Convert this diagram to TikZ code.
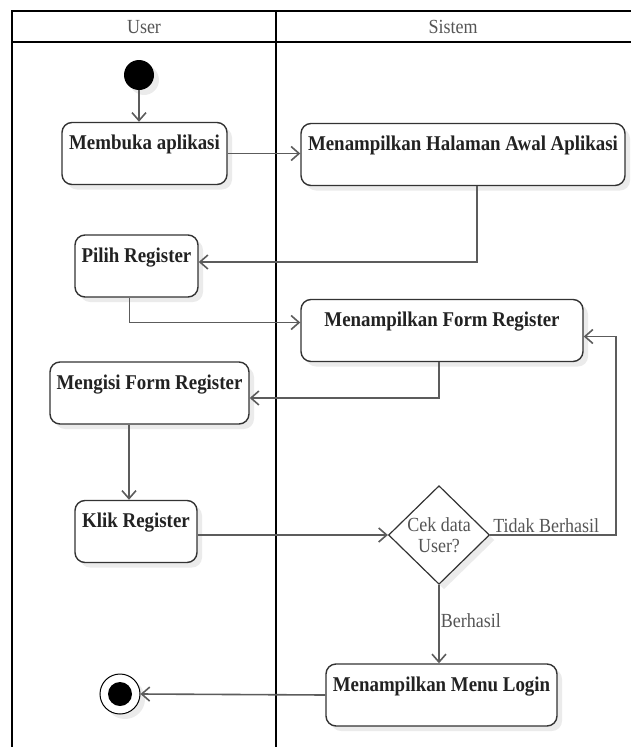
\documentclass[tikz,border=0pt]{standalone}
\usepackage{fontspec}
\setmainfont[FakeStretch=0.9]{Liberation Serif}
\usetikzlibrary{arrows.meta, shapes.geometric, shadows}
\definecolor{laneblk}{HTML}{000000}
\definecolor{actdraw}{HTML}{333333}
\definecolor{acttext}{HTML}{222222}
\definecolor{flowgray}{HTML}{5C5C5C}
\definecolor{labgray}{HTML}{555555}
\definecolor{shadegray}{HTML}{EBEBEB}
\tikzset{
  lane/.style     = {draw=laneblk, line width=2.4pt},
  lanehead/.style = {font=\fontsize{20}{22}\selectfont, text=labgray, inner sep=0pt},
  softshadow/.style = {drop shadow={shadow xshift=5pt, shadow yshift=-5pt,
                       fill=shadegray, opacity=1}},
  act/.style      = {rectangle, rounded corners=10pt, draw=actdraw, line width=1.4pt,
                     fill=white, softshadow, text=acttext,
                     font=\fontsize{21}{23}\selectfont\bfseries,
                     minimum height=62pt, text height=27pt, text depth=35pt,
                     inner ysep=0pt, inner xsep=4pt},
  decide/.style   = {diamond, draw=actdraw, line width=1.2pt, fill=white, softshadow,
                     text=labgray, font=\fontsize{20}{21}\selectfont, align=center,
                     inner sep=0pt, minimum width=101pt, minimum height=96pt},
  startdot/.style = {circle, fill=black, minimum size=30pt, inner sep=0pt, softshadow},
  enddot/.style   = {circle, draw=black, line width=1pt, fill=white, minimum size=40pt,
                     inner sep=0pt, softshadow},
  flow/.style     = {draw=flowgray, line width=1.6pt,
                     -{Straight Barb[length=8pt, width=14pt]}},
  flowlab/.style  = {font=\fontsize{20}{22}\selectfont, text=labgray, inner sep=1pt},
}

\begin{document}
\begin{tikzpicture}[x=1pt, y=-1pt]
  \useasboundingbox (0,0) rectangle (631,747);
  % swimlanes
  \draw[lane] (631,11) -- (12,11) -- (12,747);
  \draw[lane] (12,42) -- (631,42);
  \draw[lane] (276,11) -- (276,747);
  \node[lanehead] (hUser) at (144,27) {User};
  \node[lanehead] (hSistem) at (453,27) {Sistem};

  % activities
  \node[startdot] (start) at (139,75) {};
  \node[act, minimum width=165pt] (buka) at (144.5,153.5) {Membuka aplikasi};
  \node[act, minimum width=324pt] (awal) at (463,154.5) {Menampilkan Halaman Awal Aplikasi};
  \node[act, minimum width=123pt] (pilih) at (136.5,266) {Pilih Register};
  \node[act, minimum width=282pt] (form) at (442,330.5) {Menampilkan Form Register};
  \node[act, minimum width=199pt] (isi) at (149.5,393) {Mengisi Form Register};
  \node[act, minimum width=122pt] (klik) at (136,531.5) {Klik Register};
  \node[decide] (cek) at (439,535) {Cek data\\User?};
  \node[act, minimum width=231pt] (login) at (441.5,695) {Menampilkan Menu Login};
  \node[enddot] (stop) at (120,694) {};
  \fill[black] (stop.center) circle (12pt);

  % flows
  \draw[flow] (start.south) -- (start.south |- buka.north);
  \draw[flow] (buka.east) -- (awal.west |- buka.east);
  \draw[flow] ([xshift=14pt]awal.south) |- ([yshift=4pt]pilih.east);
  \draw[flow] ([xshift=-7pt]pilih.south) |- ([yshift=8pt]form.west);
  \draw[flow] ([xshift=-3pt]form.south) |- ([yshift=-5pt]isi.east);
  \draw[flow] ([xshift=-7pt]klik.north |- isi.south) -- ([xshift=-7pt]klik.north);
  \draw[flow] (klik.east |- cek.west) -- (cek.west);
  \draw[flow] (cek.east) -| ([xshift=32pt, yshift=-6pt]form.east) -- ([yshift=-6pt]form.east);
  \node[flowlab, anchor=south west] (tidak) at ([xshift=2pt, yshift=1pt]cek.east) {Tidak Berhasil};
  \draw[flow] (cek.south) -- (cek.south |- login.north)
    node[flowlab, pos=0.45, anchor=west] (berhasil) {Berhasil};
  \draw[flow] (login.west) -- (stop.east);
\end{tikzpicture}
\end{document}
